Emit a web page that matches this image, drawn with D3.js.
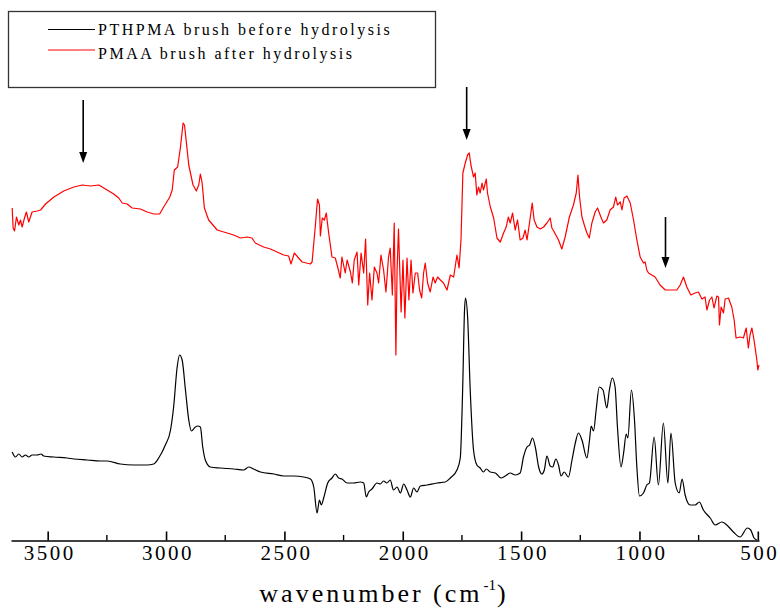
<!DOCTYPE html>
<html>
<head>
<meta charset="utf-8">
<script src="https://cdn.jsdelivr.net/npm/d3@7"></script>
<style>
  body { margin: 0; background: #fff; }
</style>
</head>
<body>
<script>
// PTHPMA brush before hydrolysis (black) : wavenumber (cm-1) / absorbance (a.u.)
const pthpmaWn = [3650,3636,3622,3608,3594,3580,3566,3544,3528,3517,3474,3418,3390,3333,3277,3249,3193,3136,3080,3052,
  3031,3003,2981,2968,2953,2943,2932,2918,2904,2893,2876,2866,2855,2845,2834,2813,2770,2714,2672,2651,
  2630,2601,2545,2503,2461,2419,2390,2376,2362,2352,2344,2334,2317,2299,2285,2271,2257,2235,2208,2179,
  2165,2154,2144,2130,2109,2095,2081,2067,2053,2039,2024,2010,1996,1982,1968,1954,1940,1926,1898,1855,
  1820,1799,1771,1757,1747,1739,1735,1726,1715,1701,1687,1673,1659,1647,1630,1609,1585,1567,1546,1525,
  1504,1490,1475,1464,1452,1440,1426,1412,1402,1391,1377,1367,1353,1342,1331,1318,1300,1285,1271,1258,
  1243,1222,1211,1204,1194,1183,1170,1154,1138,1127,1115,1103,1093,1078,1067,1056,1049,1034,1021,1011,
  1000,983,969,958,938,920,899,880,867,849,832,820,807,786,765,747,730,701,680,652,
  631,603,575,544,530,516,504];
const pthpmaAbs = [88,83,86,83,85,83,85,85,86,84,83,82,81,80,79,79,76,75,75,76,
  82,95,110,133,173,185,180,150,120,109,113,114,113,93,80,73,72,71,70,73,
  71,68,66,64,64,63,61,53,27,40,35,42,57,62,66,62,61,57,57,58,
  57,43,48,51,57,56,59,57,60,50,53,47,56,50,43,52,48,54,55,57,
  58,62,70,82,150,230,242,223,150,90,75,72,68,71,68,67,62,64,67,65,
  67,83,93,95,102,93,73,66,70,84,74,73,81,75,64,68,63,80,97,107,
  100,82,100,114,109,130,153,150,132,150,162,153,113,73,87,106,102,150,120,73,
  44,47,55,57,103,55,117,57,107,57,47,61,45,35,35,38,30,22,15,18,
  15,8,3,12,10,2,0];

// PMAA brush after hydrolysis (red)
const pmaaWn = [3650,3646,3640,3632,3622,3615,3608,3598,3590,3580,3566,3544,3530,3509,3474,3432,3390,3354,3319,3284,
  3249,3221,3200,3185,3164,3143,3108,3080,3052,3027,3010,2984,2974,2965,2951,2939,2928,2922,2904,2886,
  2872,2862,2855,2848,2838,2820,2784,2742,2714,2686,2658,2637,2623,2588,2559,2531,2503,2482,2472,2458,
  2440,2425,2390,2383,2369,2360,2352,2348,2340,2331,2323,2313,2299,2285,2275,2264,2257,2243,2235,2221,
  2213,2205,2193,2186,2176,2165,2157,2148,2140,2130,2120,2109,2102,2092,2081,2071,2060,2053,2044,2036,
  2029,2024,2018,2007,1999,1991,1982,1974,1965,1957,1947,1937,1929,1920,1912,1905,1895,1884,1872,1863,
  1853,1841,1828,1813,1799,1785,1771,1762,1754,1746,1736,1726,1719,1712,1701,1694,1687,1680,1673,1665,
  1659,1647,1642,1630,1616,1602,1588,1574,1563,1554,1546,1536,1525,1515,1504,1492,1483,1475,1464,1453,
  1445,1433,1419,1405,1391,1377,1370,1360,1342,1328,1314,1296,1279,1267,1260,1253,1243,1233,1222,1212,
  1201,1187,1177,1163,1152,1138,1124,1110,1100,1093,1081,1074,1065,1053,1039,1025,1011,997,983,976,
  969,962,948,934,913,891,870,842,828,814,800,783,765,751,736,723,715,704,694,685,
  673,666,662,655,645,638,624,610,600,592,575,561,549,540,533,525,516,504,500,495];
const pmaaAbs = [332,312,309,323,315,320,313,322,328,318,328,329,330,336,343,349,353,355,354,355,
  350,346,342,337,336,332,331,328,326,326,333,343,350,370,373,393,417,415,375,355,
  349,355,366,358,332,320,310,307,305,302,303,302,297,293,291,288,285,284,276,287,
  282,278,276,278,315,341,335,304,322,320,327,307,283,282,273,262,283,267,280,268,
  257,280,288,255,287,267,301,235,267,240,273,267,257,285,270,248,283,292,245,317,
  185,270,311,228,280,222,282,240,280,247,267,267,250,242,267,277,257,248,263,257,
  263,260,257,250,265,263,285,272,300,367,377,385,387,375,363,367,345,353,347,357,
  350,361,347,333,322,302,298,307,313,323,317,327,310,320,300,302,310,300,318,337,
  320,313,311,313,317,322,312,308,300,291,303,323,335,347,365,343,323,315,307,302,
  317,328,332,323,317,320,330,333,343,335,338,330,342,344,337,320,300,283,277,278,
  270,267,265,263,255,250,250,250,255,263,253,245,247,248,241,243,230,240,243,232,
  244,243,215,233,227,241,242,233,220,202,203,202,212,192,205,212,200,180,170,175];

const xTicks = [3500, 3000, 2500, 2000, 1500, 1000, 500];
const xMinorTicks = [3250, 2750, 2250, 1750, 1250, 750];
const legendLabels = ["PTHPMA brush before hydrolysis", "PMAA brush after hydrolysis"];
const seriesColors = ["#000000", "#ff0000"];

// band markers (arrows): wavenumber, tail and head in absorbance units
const arrowWn = [3350, 1730, 890];
const arrowTail = [440, 453, 323];
const arrowHead = [377, 400, 272];

const svgWidth = 780, svgHeight = 612;
const fontFamily = "'Liberation Serif', 'Times New Roman', serif";

const canvas = d3.select("body")
  .append("svg")
    .attr("width", svgWidth)
    .attr("height", svgHeight);

const x = d3.scaleLinear()
  .domain([3655, 495])
  .range([11, 759]);
const y = d3.scaleLinear()
  .domain([0, 540])
  .range([540, 0]);

// axis (ticks pointing inward, no left axis)
const xAxis = canvas.append("g")
  .attr("transform", "translate(0,540.5)")
  .call(d3.axisBottom(x)
    .tickValues(xTicks)
    .tickFormat(d3.format("d"))
    .tickSizeInner(-9)
    .tickSizeOuter(0)
    .tickPadding(5));
xAxis.select(".domain").attr("stroke-width", 1.5);
xAxis.selectAll(".tick line").attr("stroke-width", 1.6);
xAxis.selectAll(".tick text")
  .attr("font-family", fontFamily)
  .attr("font-size", 21)
  .attr("letter-spacing", 2.5)
  .attr("dx", 1.5)
  .attr("fill", "#000");

canvas.append("g")
  .selectAll("line")
  .data(xMinorTicks)
  .join("line")
    .attr("x1", d => x(d))
    .attr("x2", d => x(d))
    .attr("y1", 540.5)
    .attr("y2", 535)
    .attr("stroke", "#000")
    .attr("stroke-width", 1.4);

// axis title
const title = canvas.append("text")
  .attr("x", 384)
  .attr("y", 602)
  .attr("text-anchor", "middle")
  .attr("font-family", fontFamily)
  .attr("font-size", 26)
  .attr("letter-spacing", 3);
title.append("tspan").text("wavenumber (cm");
title.append("tspan")
  .text("-1")
  .attr("font-size", 15)
  .attr("letter-spacing", 0)
  .attr("dy", -12)
  .attr("dx", 1);
title.append("tspan")
  .text(")")
  .attr("dy", 12)
  .attr("dx", 1);

// spectra
const blackLine = d3.line()
  .x((d, i) => x(pthpmaWn[i]))
  .y(d => y(d))
  .curve(d3.curveMonotoneX);
const redLine = d3.line()
  .x((d, i) => x(pmaaWn[i]))
  .y(d => y(d));

canvas.append("path")
  .datum(pmaaAbs)
  .attr("fill", "none")
  .attr("stroke", seriesColors[1])
  .attr("stroke-width", 1.2)
  .attr("stroke-linejoin", "round")
  .attr("d", redLine);

canvas.append("path")
  .datum(pthpmaAbs)
  .attr("fill", "none")
  .attr("stroke", seriesColors[0])
  .attr("stroke-width", 1.2)
  .attr("stroke-linejoin", "round")
  .attr("d", blackLine);

// arrows
const arrows = canvas.append("g");
arrowWn.forEach((w, i) => {
  const ax = x(w);
  arrows.append("line")
    .attr("x1", ax).attr("x2", ax)
    .attr("y1", y(arrowTail[i]))
    .attr("y2", y(arrowHead[i]) - 8)
    .attr("stroke", "#000")
    .attr("stroke-width", 1.6);
  arrows.append("path")
    .attr("d", `M${ax - 4},${y(arrowHead[i]) - 11} L${ax + 4},${y(arrowHead[i]) - 11} L${ax},${y(arrowHead[i])} Z`)
    .attr("fill", "#000");
});

// legend
const legend = canvas.append("g");
legend.append("rect")
  .attr("x", 8.5)
  .attr("y", 11.5)
  .attr("width", 427)
  .attr("height", 76)
  .attr("fill", "none")
  .attr("stroke", "#333")
  .attr("stroke-width", 1.3);
legendLabels.forEach((label, i) => {
  const ly = 29.5 + i * 20.5;
  legend.append("line")
    .attr("x1", 48).attr("x2", 95)
    .attr("y1", ly).attr("y2", ly)
    .attr("stroke", seriesColors[i])
    .attr("stroke-width", 1);
  legend.append("text")
    .text(label)
    .attr("x", 98)
    .attr("y", 35 + i * 23.5)
    .attr("font-family", fontFamily)
    .attr("font-size", 16)
    .attr("letter-spacing", 2.5);
});
</script>
</body>
</html>
